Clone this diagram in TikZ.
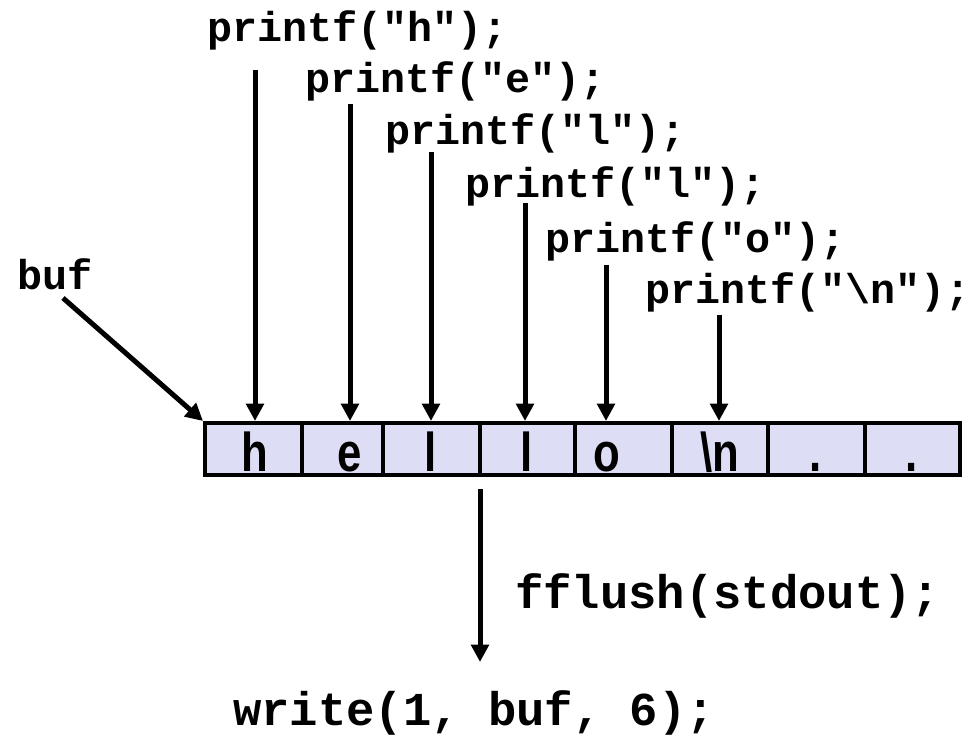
\documentclass[tikz,border=0pt]{standalone}
\usepackage{fontspec}
\setmainfont{Liberation Sans}
\setmonofont{Liberation Mono}
\usetikzlibrary{arrows.meta}

\definecolor{cellfill}{RGB}{221, 221, 245}

\newcommand{\narrowchar}[1]{\scalebox{0.8}[1]{#1}}

\tikzset{
  code/.style = {font = \ttfamily\bfseries\fontsize{31.3}{36}\selectfont, anchor = base west, inner sep = 0pt},
  bigcode/.style = {font = \ttfamily\bfseries\fontsize{35.4}{40}\selectfont, anchor = base west, inner sep = 0pt},
  buffer/.style = {draw, line width = 3pt, fill = cellfill, minimum width = 566.25pt, minimum height = 39pt, inner sep = 0pt},
  divider/.style = {line width = 2.6pt},
  letter/.style = {font = \bfseries\fontsize{41}{44}\selectfont, anchor = base, inner sep = 0pt},
  ptr/.style = {line width = 3.75pt, -{Triangle[length = 13pt, width = 13pt]}}
}

\begin{document}
\begin{tikzpicture}[x = 0.75pt, y = -0.75pt]

  \useasboundingbox (0, 0) rectangle (980, 742);

  % Buffer
  \node[buffer] (bufbox) at (582.5, 449) {};
  \draw[divider] (302, 423) -- (302, 475);
  \draw[divider] (383, 423) -- (383, 475);
  \draw[divider] (480, 423) -- (480, 475);
  \draw[divider] (575, 423) -- (575, 475);
  \draw[divider] (672, 423) -- (672, 475);
  \draw[divider] (768, 423) -- (768, 475);
  \draw[divider] (865, 423) -- (865, 475);

  % Contents
  \node[letter] (lh) at (255, 471) {\narrowchar{h}};
  \node[letter] (le) at (350, 471) {\narrowchar{e}};
  \node[letter] (ll) at (431, 471) {\narrowchar{l}};
  \node[letter] (llb) at (527, 471) {\narrowchar{l}};
  \node[letter] (lo) at (607, 471) {\narrowchar{o}};
  \node[letter] (ln) at (720, 471) {\narrowchar{\textbackslash n}};
  \node[letter] (ldot) at (816, 471) {\narrowchar{.}};
  \node[letter] (ldotb) at (912, 471) {\narrowchar{.}};

  % Calls
  \node[code] (ph) at (207, 41) {printf("h");};
  \node[code] (pe) at (305, 92) {printf("e");};
  \node[code] (pl) at (385, 144) {printf("l");};
  \node[code] (plb) at (465, 197) {printf("l");};
  \node[code] (po) at (545, 252) {printf("o");};
  \node[code] (pn) at (645, 303) {printf("\textbackslash n");};
  \node[code] (bufname) at (17, 289) {buf};
  \node[bigcode] (flush) at (515, 608) {fflush(stdout);};
  \node[bigcode] (write) at (233, 725) {write(1, buf, 6);};

  % Arrows
  \coordinate (ah) at (255, 70);
  \coordinate (ae) at (350, 104);
  \coordinate (al) at (431, 152);
  \coordinate (alb) at (525, 203);
  \coordinate (ao) at (606, 265);
  \coordinate (an) at (719, 315);
  \draw[ptr] (ah) -- (ah |- bufbox.north);
  \draw[ptr] (ae) -- (ae |- bufbox.north);
  \draw[ptr] (al) -- (al |- bufbox.north);
  \draw[ptr] (alb) -- (alb |- bufbox.north);
  \draw[ptr] (ao) -- (ao |- bufbox.north);
  \draw[ptr] (an) -- (an |- bufbox.north);
  \draw[ptr] (63, 298) -- (bufbox.north west);
  \coordinate (fftop) at (480, 489);
  \coordinate (fftip) at (480, 662);
  \draw[ptr] (fftop) -- (fftip);

\end{tikzpicture}
\end{document}
